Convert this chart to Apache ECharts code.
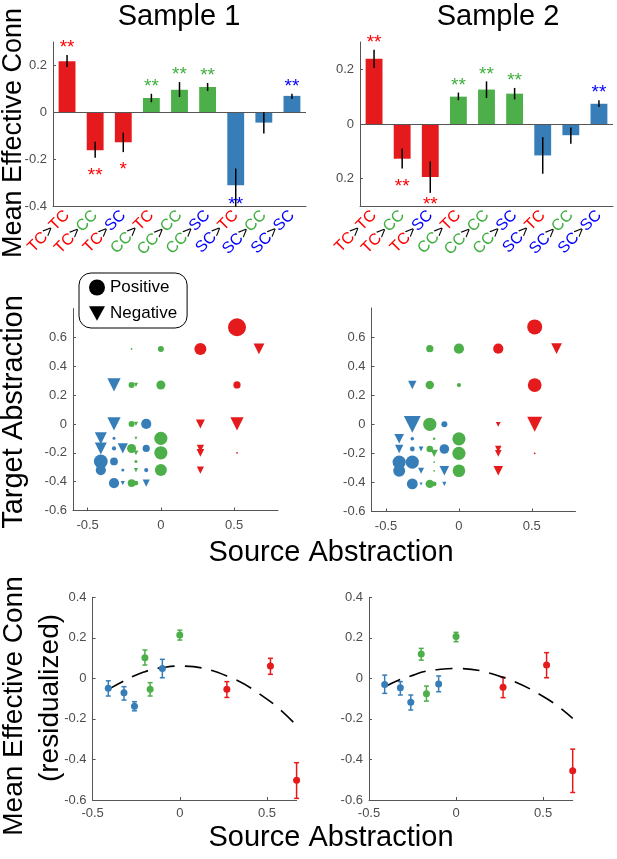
<!DOCTYPE html>
<html>
<head>
<meta charset="utf-8">
<script src="https://cdn.jsdelivr.net/npm/echarts@6/dist/echarts.min.js"></script>
<style>
  html, body { margin: 0; padding: 0; background: #fff; }
  #chart { width: 617px; height: 859px; }
</style>
</head>
<body>
<div id="chart"></div>
<script>
// ---- data ----
const barCats = ['TC>TC', 'TC>CC', 'TC>SC', 'CC>TC', 'CC>CC', 'CC>SC', 'SC>TC', 'SC>CC', 'SC>SC'];

const s1Mean = [0.218, -0.162, -0.128, 0.061, 0.096, 0.108, -0.311, -0.044, 0.070];
const s1Lo = [0.193, -0.194, -0.170, 0.043, 0.065, 0.091, -0.403, -0.091, 0.057];
const s1Hi = [0.245, -0.126, -0.087, 0.079, 0.129, 0.125, -0.240, 0.000, 0.079];
const s1Stars = ['**', '**', '*', '**', '**', '**', '**', '', '**'];

const s2Mean = [0.239, -0.127, -0.194, 0.100, 0.126, 0.111, -0.115, -0.041, 0.074];
const s2Lo = [0.205, -0.163, -0.252, 0.087, 0.095, 0.090, -0.182, -0.072, 0.062];
const s2Hi = [0.272, -0.090, -0.137, 0.115, 0.156, 0.132, -0.048, -0.013, 0.087];
const s2Stars = ['**', '**', '**', '**', '**', '**', '', '', '**'];

// regions: abstraction score and group
const regionAbs = [-0.41, -0.32, -0.26, -0.20, -0.17, -0.10, 0.00, 0.27, 0.52, 0.67];
const regionGroup = ['SC', 'SC', 'SC', 'CC', 'CC', 'SC', 'CC', 'TC', 'TC', 'TC'];

// [source region, target region, effective conn]
const s1Conn = [
  [1, 7, -0.22], [3, 7, 0.10], [4, 7, -0.07], [6, 7, 0.15],
  [1, 6, -0.22], [3, 6, 0.10], [4, 6, -0.07], [5, 6, 0.17],
  [0, 5, -0.20], [1, 5, 0.05], [4, 5, -0.05], [6, 5, 0.22],
  [0, 4, -0.20], [1, 4, 0.07], [2, 4, -0.17], [3, 4, 0.15], [5, 4, 0.12],
  [6, 3, 0.22], [4, 3, -0.08],
  [0, 2, 0.23], [1, 2, 0.13], [4, 2, 0.05],
  [0, 1, 0.17], [2, 1, 0.05], [4, 1, -0.07], [5, 1, 0.07], [6, 1, 0.20],
  [1, 0, 0.17], [2, 0, -0.07], [3, 0, 0.13], [4, 0, 0.08], [5, 0, -0.12],
  [3, 8, 0.03], [6, 8, 0.10], [7, 8, 0.20], [9, 8, -0.18],
  [8, 9, 0.30], [8, 7, 0.12],
  [7, 6, -0.15], [8, 6, -0.22],
  [7, 4, -0.12], [7, 3, -0.13], [8, 3, 0.03], [7, 1, -0.12]
];
const s2Conn = [
  [8, 9, 0.25], [9, 8, -0.18], [7, 8, 0.17], [6, 8, 0.17], [3, 8, 0.12],
  [8, 7, 0.23], [6, 7, 0.07], [3, 7, 0.14], [1, 7, -0.14],
  [8, 6, -0.25], [7, 6, -0.08], [5, 6, 0.10], [3, 6, 0.22], [1, 6, -0.28],
  [8, 3, 0.03], [7, 4, -0.11], [7, 3, -0.11], [7, 1, -0.16],
  [6, 5, 0.22], [6, 3, 0.22], [6, 1, 0.21],
  [0, 5, -0.16], [1, 5, 0.06], [4, 5, 0.04],
  [0, 4, -0.14], [1, 4, 0.08], [2, 4, -0.08], [3, 4, 0.11], [4, 3, -0.12], [5, 4, 0.16],
  [0, 2, 0.22], [1, 2, 0.22], [4, 2, 0.03],
  [0, 1, 0.20], [2, 1, -0.10], [4, 1, 0.03], [5, 1, -0.16],
  [1, 0, 0.18], [2, 0, -0.05], [3, 0, 0.14], [4, 0, 0.08], [5, 0, -0.07]
];

// residualized conn per source region, with error bar ends and quadratic fit
const s1Resid = [-0.049, -0.071, -0.137, 0.102, -0.054, 0.049, 0.214, -0.054, 0.061, -0.503];
const s1ResidLo = [-0.087, -0.107, -0.160, 0.066, -0.087, 0.003, 0.189, -0.094, 0.020, -0.592];
const s1ResidHi = [-0.012, -0.041, -0.115, 0.140, -0.021, 0.094, 0.238, -0.016, 0.099, -0.416];
const s1Fit = [-0.054, -0.012, 0.013, 0.033, 0.041, 0.053, 0.061, 0.012, -0.115, -0.233];

const s2Resid = [-0.030, -0.046, -0.118, 0.120, -0.076, -0.028, 0.206, -0.044, 0.066, -0.456];
const s2ResidLo = [-0.074, -0.082, -0.156, 0.090, -0.112, -0.066, 0.181, -0.095, 0.003, -0.563];
const s2ResidHi = [0.016, -0.016, -0.082, 0.148, -0.038, 0.012, 0.227, 0.005, 0.127, -0.349];
const s2Fit = [-0.041, -0.005, 0.012, 0.030, 0.036, 0.044, 0.049, 0.005, -0.099, -0.197];

// ---- styling ----
const FONT = '"Liberation Sans", Arial, Helvetica, sans-serif';
const GROUP_COLORS = { TC: '#e41a1c', CC: '#4daf4a', SC: '#377eb8' };
const LABEL_COLORS = { TC: '#ff0000', CC: '#3fae3f', SC: '#0000ff' };
const AXIS_COLOR = '#555';
const tickLabel = { color: '#4d4d4d', fontSize: 13, fontFamily: FONT };
const TRI = 'path://M0,0L10,0L5,9Z';

const fmt = (v) => String(Math.round(v * 10) / 10);

function valueAxis(gi, min, max, labels, extra) {
  return Object.assign({
    gridIndex: gi, type: 'value', min: min, max: max,
    splitLine: { show: false },
    axisLine: { show: true, onZero: false, lineStyle: { color: AXIS_COLOR, width: 1 } },
    axisTick: { show: true, inside: true, length: 3, customValues: labels, lineStyle: { color: AXIS_COLOR } },
    axisLabel: Object.assign({ margin: 6, customValues: labels, formatter: fmt }, tickLabel)
  }, extra || {});
}

function catAxis(gi) {
  const rich = { k: { color: '#000', fontSize: 16, fontFamily: FONT } };
  Object.keys(LABEL_COLORS).forEach(g => {
    rich[g] = { color: LABEL_COLORS[g], fontSize: 16, fontFamily: FONT };
  });
  return {
    gridIndex: gi, type: 'category', data: barCats,
    axisLine: { onZero: false, lineStyle: { color: AXIS_COLOR, width: 1 } },
    axisTick: { inside: true, alignWithLabel: true, length: 4, lineStyle: { color: AXIS_COLOR } },
    axisLabel: {
      interval: 0, rotate: 45, margin: 7,
      formatter: (v) => {
        const p = v.split('>');
        return '{' + p[0] + '|' + p[0] + '}{k|>}{' + p[1] + '|' + p[1] + '}';
      },
      rich: rich
    }
  };
}

function barSeries(gi, mean) {
  return {
    type: 'bar', xAxisIndex: gi, yAxisIndex: gi, barWidth: '60%',
    data: mean,
    itemStyle: { color: (p) => GROUP_COLORS[barCats[p.dataIndex].split('>')[0]] },
    markLine: {
      silent: true, symbol: 'none', label: { show: false },
      lineStyle: { color: AXIS_COLOR, type: 'solid', width: 1 },
      emphasis: { disabled: true },
      data: [{ yAxis: 0 }]
    }
  };
}

function barErrSeries(gi, mean, lo, hi, stars) {
  return {
    type: 'custom', xAxisIndex: gi, yAxisIndex: gi, z: 5, silent: true,
    data: barCats.map((c, i) => [i, lo[i], hi[i]]),
    renderItem: (params, api) => {
      const i = params.dataIndex;
      const a = api.coord([i, lo[i]]);
      const b = api.coord([i, hi[i]]);
      const children = [{
        type: 'line',
        shape: { x1: a[0], y1: a[1], x2: b[0], y2: b[1] },
        style: { stroke: '#000', lineWidth: 1.5 }
      }];
      if (stars[i]) {
        const bottom = params.coordSys.y + params.coordSys.height;
        const y = mean[i] > 0 ? b[1] - 12 : Math.min(a[1] + 13, bottom - 6);
        children.push({
          type: 'text',
          style: {
            text: stars[i], x: a[0], y: y + 5,
            fill: LABEL_COLORS[barCats[i].split('>')[0]],
            fontSize: 19, fontFamily: FONT,
            align: 'center', verticalAlign: 'middle'
          }
        });
      }
      return { type: 'group', children: children };
    }
  };
}

function connSeries(gi, conn, name, positive) {
  return {
    name: name, type: 'scatter', xAxisIndex: gi, yAxisIndex: gi,
    symbol: positive ? 'circle' : TRI,
    data: conn.filter(d => positive ? d[2] > 0 : d[2] < 0)
      .map(d => [regionAbs[d[0]], regionAbs[d[1]], d[2], d[0]]),
    symbolSize: (val) => Math.max(1.5, Math.abs(val[2]) * 60),
    itemStyle: { color: (p) => GROUP_COLORS[regionGroup[p.data[3]]], opacity: 1 }
  };
}

function residSeries(gi, resid, lo, hi, fit) {
  return [
    {
      type: 'line', xAxisIndex: gi, yAxisIndex: gi, smooth: 0.4, showSymbol: false, silent: true,
      data: regionAbs.map((x, i) => [x, fit[i]]),
      lineStyle: { color: '#000', width: 1.6, type: [17, 10] }
    },
    {
      type: 'custom', xAxisIndex: gi, yAxisIndex: gi, silent: true,
      data: regionAbs.map((x, i) => [x, lo[i], hi[i]]),
      renderItem: (params, api) => {
        const i = params.dataIndex;
        const a = api.coord([regionAbs[i], lo[i]]);
        const b = api.coord([regionAbs[i], hi[i]]);
        const st = { stroke: GROUP_COLORS[regionGroup[i]], lineWidth: 1.5 };
        return {
          type: 'group', children: [
            { type: 'line', shape: { x1: a[0], y1: a[1], x2: b[0], y2: b[1] }, style: st },
            { type: 'line', shape: { x1: a[0] - 2.5, y1: a[1], x2: a[0] + 2.5, y2: a[1] }, style: st },
            { type: 'line', shape: { x1: b[0] - 2.5, y1: b[1], x2: b[0] + 2.5, y2: b[1] }, style: st }
          ]
        };
      }
    },
    {
      type: 'scatter', xAxisIndex: gi, yAxisIndex: gi, symbolSize: 7, z: 4,
      data: regionAbs.map((x, i) => [x, resid[i], i]),
      itemStyle: { color: (p) => GROUP_COLORS[regionGroup[p.data[2]]], opacity: 1 }
    }
  ];
}

function label(text, x, y, size, rot) {
  return {
    type: 'text', x: x, y: y, rotation: rot ? Math.PI / 2 : 0, silent: true,
    style: {
      text: text, fill: '#000', fontSize: size, fontFamily: FONT,
      align: 'center', verticalAlign: 'middle',
      textAlign: 'center', textVerticalAlign: 'middle'
    }
  };
}

const chart = echarts.init(document.getElementById('chart'), null, { renderer: 'canvas' });

const option = {
  animation: false,
  backgroundColor: '#fff',
  grid: [
    { left: 53, top: 42, width: 253, height: 164 },
    { left: 360, top: 42, width: 253, height: 164 },
    { left: 73, top: 308.5, width: 205, height: 202 },
    { left: 371.5, top: 308, width: 204, height: 203.5 },
    { left: 92.6, top: 597.3, width: 204, height: 202.7 },
    { left: 369, top: 597.3, width: 203.7, height: 202.7 }
  ],
  legend: {
    left: 79, top: 273, orient: 'vertical', selectedMode: false,
    itemWidth: 16, itemHeight: 16, itemGap: 9,
    padding: [6, 10, 6, 10],
    borderColor: '#000', borderWidth: 1, borderRadius: 12, backgroundColor: '#fff',
    textStyle: { fontSize: 17, color: '#000', fontFamily: FONT },
    data: [
      { name: 'Positive', icon: 'circle', itemStyle: { color: '#000' } },
      { name: 'Negative', icon: TRI, itemStyle: { color: '#000' } }
    ]
  },
  xAxis: [
    catAxis(0),
    catAxis(1),
    valueAxis(2, -0.6, 0.8, [-0.5, 0, 0.5], { axisLabel: Object.assign({ margin: 8, customValues: [-0.5, 0, 0.5], formatter: fmt }, tickLabel) }),
    valueAxis(3, -0.6, 0.8, [-0.5, 0, 0.5], { axisLabel: Object.assign({ margin: 8, customValues: [-0.5, 0, 0.5], formatter: fmt }, tickLabel) }),
    valueAxis(4, -0.5, 0.67, [-0.5, 0, 0.5], { axisLabel: Object.assign({ margin: 7, customValues: [-0.5, 0, 0.5], formatter: fmt }, tickLabel) }),
    valueAxis(5, -0.5, 0.67, [-0.5, 0, 0.5], { axisLabel: Object.assign({ margin: 7, customValues: [-0.5, 0, 0.5], formatter: fmt }, tickLabel) })
  ],
  yAxis: [
    valueAxis(0, -0.4, 0.3, [-0.4, -0.2, 0, 0.2]),
    valueAxis(1, -0.3, 0.3, [-0.2, 0, 0.2], {
      axisLabel: Object.assign({ margin: 6, customValues: [-0.2, 0, 0.2], formatter: (v) => fmt(Math.abs(v)) }, tickLabel)
    }),
    valueAxis(2, -0.6, 0.8, [-0.6, -0.4, -0.2, 0, 0.2, 0.4, 0.6]),
    valueAxis(3, -0.6, 0.8, [-0.6, -0.4, -0.2, 0, 0.2, 0.4, 0.6]),
    valueAxis(4, -0.6, 0.4, [-0.6, -0.4, -0.2, 0, 0.2, 0.4]),
    valueAxis(5, -0.6, 0.4, [-0.6, -0.4, -0.2, 0, 0.2, 0.4])
  ],
  graphic: [
    label('Sample 1', 179, 17, 29),
    label('Sample 2', 498, 17, 29),
    label('Mean Effective Conn', 14, 133, 27, true),
    label('Target Abstraction', 14, 412, 29, true),
    label('Source Abstraction', 331, 553, 29),
    label('Mean Effective Conn', 14, 706, 28, true),
    label('(residualized)', 50, 698, 28, true),
    label('Source Abstraction', 331, 838, 29)
  ],
  series: [
    barSeries(0, s1Mean),
    barErrSeries(0, s1Mean, s1Lo, s1Hi, s1Stars),
    barSeries(1, s2Mean),
    barErrSeries(1, s2Mean, s2Lo, s2Hi, s2Stars),
    connSeries(2, s1Conn, 'Positive', true),
    connSeries(2, s1Conn, 'Negative', false),
    connSeries(3, s2Conn, 'Positive', true),
    connSeries(3, s2Conn, 'Negative', false)
  ].concat(
    residSeries(4, s1Resid, s1ResidLo, s1ResidHi, s1Fit),
    residSeries(5, s2Resid, s2ResidLo, s2ResidHi, s2Fit)
  )
};

chart.setOption(option);

window.addEventListener('resize', () => chart.resize());
</script>
</body>
</html>
